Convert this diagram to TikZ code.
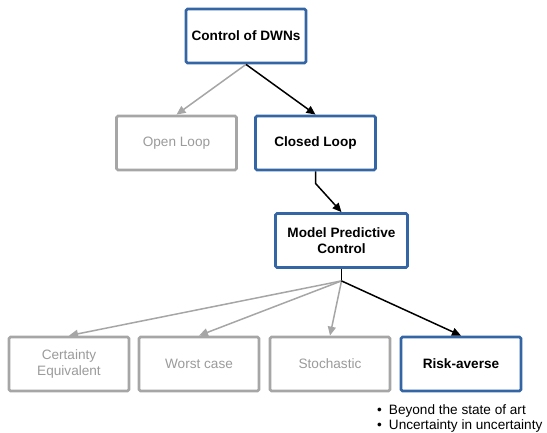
\documentclass[tikz,border=0pt]{standalone}
\usepackage{fontspec}
\setmainfont{Liberation Sans}
\usetikzlibrary{arrows.meta}

\definecolor{boxblue}{HTML}{3465A4}
\definecolor{boxgray}{HTML}{A6A6A6}
\definecolor{textgray}{HTML}{9B9B9B}

\tikzset{
    mainbox/.style={draw=boxblue,line width=2.8pt,rounded corners=1.5pt,fill=white,
        minimum width=120pt,minimum height=54pt,align=center,font=\fontsize{13.6}{15.5}\selectfont\bfseries},
    sidebox/.style={draw=boxgray,line width=2.8pt,rounded corners=1.5pt,fill=white,
        minimum width=120pt,minimum height=54pt,align=center,text=textgray,font=\fontsize{13.6}{15.5}\selectfont},
    mainarrow/.style={-{Triangle[length=9pt,width=8pt]},line width=1.5pt,black},
    sidearrow/.style={-{Triangle[length=9pt,width=8pt]},line width=1.5pt,boxgray},
}

\begin{document}
\begin{tikzpicture}[x=1pt,y=-1pt]
    \useasboundingbox (0,0) rectangle (547,432);

    % Cajas de la jerarquía.
    \node[mainbox] (dwn) at (246,36) {Control of DWNs};
    \node[sidebox] (open) at (176.5,143) {Open Loop};
    \node[mainbox] (closed) at (315.5,143) {Closed Loop};
    \node[mainbox,minimum width=132pt] (mpc) at (341.5,240.5) {Model Predictive\\Control};
    \node[sidebox] (ce) at (69,364) {Certainty\\Equivalent};
    \node[sidebox] (wc) at (199,364) {Worst case};
    \node[sidebox] (st) at (330,364) {Stochastic};
    \node[mainbox] (ra) at (461,364) {Risk-averse};

    % Conectores.
    \draw[sidearrow] (dwn.south) -- (open.north);
    \draw[mainarrow] (dwn.south) -- (closed.north);
    \draw[mainarrow] (closed.south) -- ++(0,12) coordinate (bend) -- (mpc.north);
    \draw[line width=1.5pt] (mpc.south) -- ++(0,12) coordinate (fan);
    \foreach \tgt in {ce,wc,st}{
        \draw[sidearrow] (fan) -- (\tgt.north);
    }
    \draw[mainarrow] (fan) -- (ra.north);

    % Notas bajo la caja elegida.
    \node[anchor=north west,align=left,inner sep=0pt,font=\fontsize{13.6}{15}\selectfont] (notes) at (377,404.5)
        {\textbullet\hspace{7pt}Beyond the state of art\\\textbullet\hspace{7pt}Uncertainty in uncertainty};
\end{tikzpicture}
\end{document}
